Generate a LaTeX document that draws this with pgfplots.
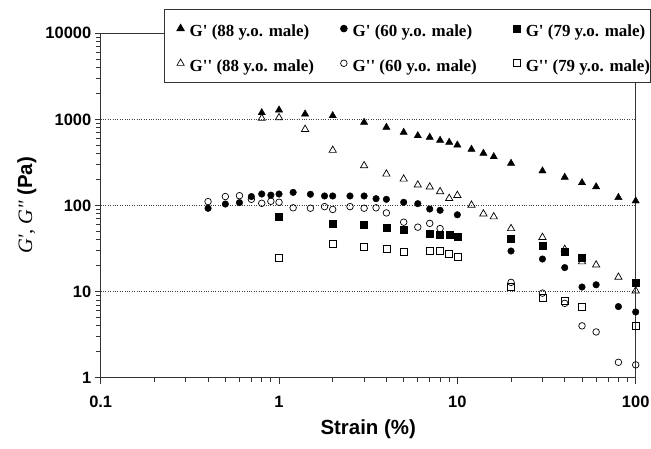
\documentclass[border=0pt]{standalone}
\usepackage{fontspec}
\setmainfont{Liberation Serif}
\newfontfamily\arial{Liberation Sans}
\usepackage{pgfplots}
\pgfplotsset{compat=1.18}
\begin{document}
\begin{tikzpicture}
\begin{axis}[
 name=ax,
 at={(0,0)}, anchor=south west,
 scale only axis, width=535bp, height=344.4bp,
 xmode=log, ymode=log,
 xmin=0.1, xmax=100, ymin=1, ymax=10000,
 xtick={0.1,1,10,100}, xticklabels={0.1,1,10,100},
 ytick={1,10,100,1000,10000}, yticklabels={1,10,100,1000,10000},
 minor xtick={0.2,0.3,0.4,0.5,0.6,0.7,0.8,0.9,2,3,4,5,6,7,8,9,20,30,40,50,60,70,80,90},
 minor ytick={2,3,4,5,6,7,8,9,20,30,40,50,60,70,80,90,200,300,400,500,600,700,800,900,2000,3000,4000,5000,6000,7000,8000,9000},
 tick align=outside, xtick pos=left, ytick pos=left,
 major tick length=6bp, minor tick length=4.5bp,
 tick style={black!80, line width=0.8bp},
 ymajorgrids, grid style={dotted, black!75, line width=0.8bp},
 axis line style={black!80, line width=0.9bp},
 ticklabel style={font=\arial\bfseries\fontsize{16.5}{16.5}\selectfont},
 xticklabel style={yshift=-9bp},
 xlabel={\arial\bfseries Strain (\%)},
 xlabel style={at={(axis description cs:0.5,-0.1655)}, anchor=base, font=\fontsize{20.5}{20.5}\selectfont},
 ylabel={\textit{G\textquotesingle, G\textquotesingle\textquotesingle}\ {\arial\bfseries (Pa)}},
 ylabel style={at={(axis description cs:-0.138,0.5)}, anchor=center, font=\fontsize{20.5}{20.5}\selectfont},
 legend columns=3, legend cell align=left,
 legend image code/.code={\path (-15.7bp,0bp); \draw[#1] plot coordinates {(0bp,0bp)};},
 legend style={at={(axis description cs:0.1183,1.0697)}, anchor=north west,
   draw=black!80, line width=0.9bp, fill=white,
   font=\bfseries\fontsize{17}{17}\selectfont,
   inner xsep=0bp, inner ysep=4bp, row sep=5bp,
   nodes={inner xsep=0pt, inner ysep=0pt, text height=22.7bp, text depth=7bp},
   /tikz/every odd column/.append style={column sep=5.5bp},
   /tikz/column 2/.append style={column sep=13.8bp},
   /tikz/column 4/.append style={column sep=23.8bp}},
]
% G' 88
\addplot[only marks, black, mark=triangle*, mark size=4.2bp] coordinates {
(0.8,1196) (1,1285) (1.4,1155) (2,1104) (3,925) (4,809) (5,708) (6,647) (7,620) (8,572) (9,542) (10,504) (12,450) (14,404) (16,369) (20,309) (30,252) (40,213) (50,184) (60,165) (80,124) (100,113)};
\addlegendentry{G\textquotesingle{} (88 y.o. male)}
% G' 60
\addplot[only marks, black, mark=*, mark size=3.3bp] coordinates {
(0.4,92.8) (0.5,104) (0.6,108) (0.7,127) (0.8,136) (0.9,132) (1,136) (1.2,142) (1.5,135) (1.8,129) (2,129) (2.5,129) (3,129) (3.5,120) (4,118) (5,109) (6,105) (7,91) (8,88) (10,78) (20,29.6) (30,23.9) (40,19.0) (50,11.3) (60,12.0) (80,6.7) (100,5.8)};
\addlegendentry{G\textquotesingle{} (60 y.o. male)}
% G' 79
\addplot[only marks, black, mark=square*, mark size=3.5bp] coordinates {
(1,74) (2,62) (3,60) (4,55.5) (5,53) (7,47.6) (8,45.4) (9,45.4) (10,43.4) (20,40.8) (30,34.1) (40,29.1) (50,24.8) (100,12.8)};
\addlegendentry{G\textquotesingle{} (79 y.o. male)}
% G'' 88
\addplot[only marks, black, mark=triangle, mark size=4.2bp, mark options={line width=0.7bp}] coordinates {
(0.8,1030) (1,1047) (1.4,767) (2,438) (3,290) (4,232) (5,203) (6,173) (7,164) (8,145) (9,121) (10,131) (12,101) (14,80) (16,74) (20,54) (30,42.7) (40,31) (50,22.2) (60,20.4) (80,14.7) (100,10.2)};
\addlegendentry{G\textquotesingle\textquotesingle{} (88 y.o. male)}
% G'' 60
\addplot[only marks, black, mark=o, mark size=3.3bp, mark options={line width=0.7bp}] coordinates {
(0.4,111) (0.5,127) (0.6,130) (0.7,118) (0.8,106) (0.9,112) (1,109) (1.2,94) (1.5,93) (1.8,97) (2,90) (2.5,97) (3,93) (3.5,94) (4,82) (5,64) (6,56) (7,62) (8,54) (20,12.8) (30,9.6) (40,7.3) (50,4.0) (60,3.4) (80,1.51) (100,1.41)};
\addlegendentry{G\textquotesingle\textquotesingle{} (60 y.o. male)}
% G'' 79
\addplot[only marks, black, mark=square, mark size=3.5bp, mark options={line width=0.7bp}] coordinates {
(1,24.8) (2,35.4) (3,32.7) (4,31.0) (5,29.1) (7,29.9) (8,29.9) (9,27.1) (10,25.4) (20,11.4) (30,8.4) (40,7.8) (50,6.7) (100,4.0)};
\addlegendentry{G\textquotesingle\textquotesingle{} (79 y.o. male)}
\end{axis}
\pgfresetboundingbox
\path (ax.south west) ++(-100.7bp,-71.3bp) rectangle ++(651bp,449bp);
\end{tikzpicture}
\end{document}
